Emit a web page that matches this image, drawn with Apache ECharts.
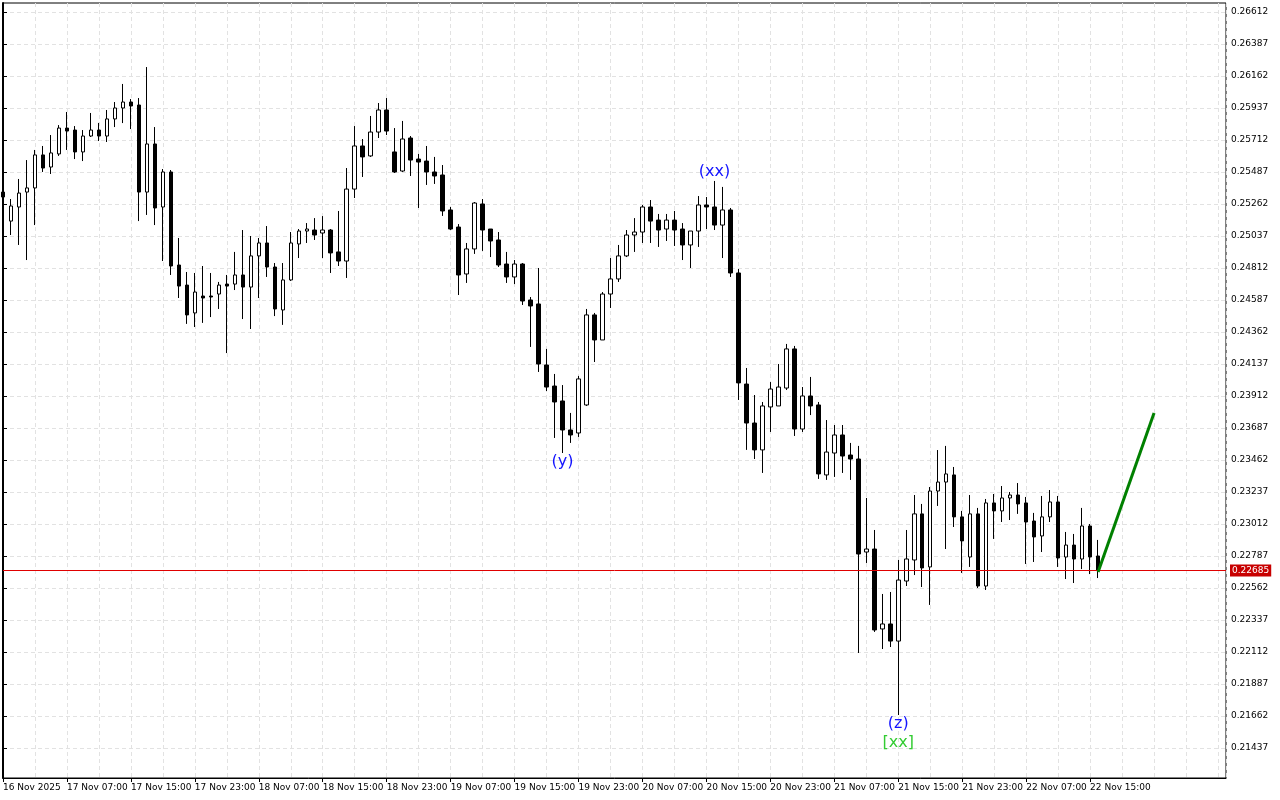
<!DOCTYPE html>
<html>
<head>
<meta charset="utf-8">
<script src="https://cdn.jsdelivr.net/npm/echarts@6/dist/echarts.min.js"></script>
<style>
  html, body { margin: 0; padding: 0; background: #fff; }
  #chart { width: 1280px; height: 800px; }
</style>
</head>
<body>
<div id="chart"></div>
<script>
// H1 candles, 16 Nov 23:00 -> 22 Nov 16:00
var opens = [
  0.25346, 0.25142, 0.25241, 0.25346, 0.25375, 0.25607, 0.25522, 0.25614, 0.25796, 0.25782,
  0.25628, 0.25740, 0.25782, 0.25740, 0.25860, 0.25937, 0.25979, 0.25958, 0.25346, 0.25684,
  0.25241, 0.25487, 0.24833, 0.24692, 0.24496, 0.24615, 0.24615, 0.24629, 0.24699, 0.24699,
  0.24763, 0.24678, 0.24897, 0.24988, 0.24819, 0.24517, 0.24728, 0.24981, 0.25072, 0.25079,
  0.25058, 0.25079, 0.24925, 0.24861, 0.25367, 0.25670, 0.25600, 0.25768, 0.25923, 0.25628,
  0.25494, 0.25726, 0.25578, 0.25564, 0.25487, 0.25466, 0.25220, 0.25100, 0.24770, 0.24946,
  0.25262, 0.25086, 0.25009, 0.24840, 0.24749, 0.24840, 0.24587, 0.24559, 0.24130, 0.23982,
  0.23877, 0.23673, 0.23652, 0.23849, 0.24482, 0.24306, 0.24629, 0.24735, 0.24897, 0.25044,
  0.25065, 0.25241, 0.25149, 0.25086, 0.25149, 0.25086, 0.24974, 0.25072, 0.25255, 0.25241,
  0.25114, 0.25220, 0.24777, 0.23996, 0.23722, 0.23533, 0.23835, 0.23842, 0.23968, 0.24243,
  0.23680, 0.23912, 0.23849, 0.23357, 0.23511, 0.23638, 0.23497, 0.23469, 0.22815, 0.22836,
  0.22274, 0.22309, 0.22189, 0.22611, 0.22759, 0.23083, 0.22710, 0.23244, 0.23307, 0.23357,
  0.23062, 0.22780, 0.23083, 0.22576, 0.23160, 0.23104, 0.23195, 0.23216, 0.23160, 0.23033,
  0.22928, 0.23062, 0.23167, 0.22780, 0.22864, 0.22766, 0.22998, 0.22787
];
var highs = [
  0.25353, 0.25297, 0.25438, 0.25571, 0.25642, 0.25670, 0.25747, 0.25817, 0.25909, 0.25810,
  0.25782, 0.25902, 0.25832, 0.25923, 0.25979, 0.26106, 0.26000, 0.26007, 0.26225, 0.25803,
  0.25508, 0.25501, 0.25023, 0.24784, 0.24777, 0.24826, 0.24777, 0.24714, 0.24763, 0.24925,
  0.25079, 0.25037, 0.25023, 0.25107, 0.24847, 0.24847, 0.25065, 0.25086, 0.25128, 0.25163,
  0.25177, 0.25086, 0.25213, 0.25515, 0.25810, 0.25719, 0.25881, 0.25972, 0.26007, 0.25796,
  0.25846, 0.25740, 0.25614, 0.25670, 0.25593, 0.25536, 0.25241, 0.25121, 0.24988, 0.25276,
  0.25297, 0.25086, 0.25065, 0.24925, 0.24868, 0.24847, 0.24608, 0.24812, 0.24243, 0.24067,
  0.23989, 0.23793, 0.24053, 0.24524, 0.24496, 0.24643, 0.24882, 0.24974, 0.25079, 0.25163,
  0.25255, 0.25290, 0.25192, 0.25192, 0.25213, 0.25128, 0.25072, 0.25318, 0.25311, 0.25424,
  0.25382, 0.25234, 0.24805, 0.24109, 0.23919, 0.23870, 0.24010, 0.24137, 0.24278, 0.24264,
  0.23975, 0.24046, 0.23870, 0.23743, 0.23708, 0.23708, 0.23582, 0.23561, 0.23195, 0.22970,
  0.22520, 0.22534, 0.22759, 0.22970, 0.23216, 0.23153, 0.23272, 0.23532, 0.23561, 0.23413,
  0.23104, 0.23216, 0.23125, 0.23188, 0.23223, 0.23279, 0.23237, 0.23300, 0.23202, 0.23090,
  0.23209, 0.23251, 0.23209, 0.22956, 0.22942, 0.23125, 0.23012, 0.22900
];
var lows = [
  0.25304, 0.25044, 0.24974, 0.24868, 0.25114, 0.25487, 0.25473, 0.25600, 0.25642, 0.25578,
  0.25564, 0.25733, 0.25705, 0.25698, 0.25803, 0.25831, 0.25789, 0.25142, 0.25185, 0.25114,
  0.24861, 0.24763, 0.24601, 0.24419, 0.24397, 0.24426, 0.24467, 0.24524, 0.24214, 0.24657,
  0.24453, 0.24383, 0.24601, 0.24749, 0.24474, 0.24412, 0.24721, 0.24882, 0.24988, 0.25009,
  0.24882, 0.24777, 0.24826, 0.24742, 0.25304, 0.25452, 0.25593, 0.25726, 0.25747, 0.25480,
  0.25487, 0.25459, 0.25234, 0.25396, 0.25403, 0.25178, 0.25079, 0.24622, 0.24707, 0.24911,
  0.24932, 0.24889, 0.24819, 0.24707, 0.24699, 0.24552, 0.24257, 0.24081, 0.23947, 0.23617,
  0.23511, 0.23582, 0.23624, 0.23842, 0.24151, 0.24306, 0.24531, 0.24714, 0.24889, 0.24925,
  0.24988, 0.24988, 0.24960, 0.25002, 0.24967, 0.24868, 0.24812, 0.24960, 0.25086, 0.25079,
  0.24882, 0.24749, 0.23884, 0.23533, 0.23469, 0.23371, 0.23659, 0.23842, 0.23954, 0.23631,
  0.23659, 0.23778, 0.23329, 0.23322, 0.23343, 0.23371, 0.23322, 0.22105, 0.22738, 0.22253,
  0.22133, 0.22147, 0.21669, 0.22576, 0.22653, 0.22569, 0.22443, 0.23139, 0.22836, 0.22991,
  0.22668, 0.22710, 0.22562, 0.22548, 0.22907, 0.23026, 0.23040, 0.23083, 0.22731, 0.22745,
  0.22815, 0.23026, 0.22710, 0.22625, 0.22597, 0.22695, 0.22660, 0.22632
];
var closes = [
  0.25311, 0.25248, 0.25339, 0.25375, 0.25607, 0.25515, 0.25621, 0.25796, 0.25775, 0.25628,
  0.25740, 0.25782, 0.25740, 0.25860, 0.25937, 0.25979, 0.25951, 0.25346, 0.25684, 0.25234,
  0.25487, 0.24826, 0.24685, 0.24482, 0.24643, 0.24601, 0.24608, 0.24692, 0.24685, 0.24763,
  0.24678, 0.24897, 0.24988, 0.24819, 0.24524, 0.24728, 0.24988, 0.25072, 0.25086, 0.25044,
  0.25079, 0.24918, 0.24861, 0.25367, 0.25670, 0.25593, 0.25768, 0.25923, 0.25775, 0.25487,
  0.25719, 0.25571, 0.25557, 0.25487, 0.25459, 0.25213, 0.25086, 0.24763, 0.24946, 0.25269,
  0.25079, 0.25002, 0.24833, 0.24749, 0.24840, 0.24580, 0.24545, 0.24137, 0.23975, 0.23870,
  0.23673, 0.23638, 0.24032, 0.24482, 0.24306, 0.24629, 0.24735, 0.24897, 0.25044, 0.25065,
  0.25241, 0.25142, 0.25079, 0.25149, 0.25079, 0.24974, 0.25072, 0.25255, 0.25241, 0.25114,
  0.25220, 0.24777, 0.24004, 0.23722, 0.23533, 0.23842, 0.23961, 0.23975, 0.24243, 0.23680,
  0.23912, 0.23842, 0.23364, 0.23518, 0.23638, 0.23490, 0.23469, 0.22801, 0.22836, 0.22267,
  0.22309, 0.22189, 0.22618, 0.22766, 0.23083, 0.22703, 0.23244, 0.23307, 0.23364, 0.23062,
  0.22893, 0.23083, 0.22576, 0.23160, 0.23104, 0.23195, 0.23216, 0.23153, 0.23026, 0.22921,
  0.23062, 0.23167, 0.22773, 0.22864, 0.22766, 0.22998, 0.22780, 0.22685
];

var lastPrice = 0.22685;

// price scale labels
var yTicks = [
  0.21437, 0.21662, 0.21887, 0.22112, 0.22337, 0.22562, 0.22787, 0.23012,
  0.23237, 0.23462, 0.23687, 0.23912, 0.24137, 0.24362, 0.24587, 0.24812,
  0.25037, 0.25262, 0.25487, 0.25712, 0.25937, 0.26162, 0.26387, 0.26612
];
// time scale labels, one every 8 bars
var timeLabels = [
  "16 Nov 2025", "17 Nov 07:00", "17 Nov 15:00", "17 Nov 23:00", "18 Nov 07:00",
  "18 Nov 15:00", "18 Nov 23:00", "19 Nov 07:00", "19 Nov 15:00", "19 Nov 23:00",
  "20 Nov 07:00", "20 Nov 15:00", "20 Nov 23:00", "21 Nov 07:00", "21 Nov 15:00",
  "21 Nov 23:00", "22 Nov 07:00", "22 Nov 15:00"
];

// wave marks
var waveText  = ["(xx)", "(y)", "(z)", "[xx]"];
var waveBar   = [89, 70, 112, 112];
var wavePrice = [0.25424, 0.23511, 0.21669, 0.21669];

// projection line
var projBar   = [137, 144];
var projPrice = [0.22675, 0.23793];

var totalBars = 154; // includes empty space on the right
var categories = [];
var days = ["16", "17", "18", "19", "20", "21", "22", "23"];
for (var i = 0; i < totalBars; i++) {
  var h = 23 + i;
  var d = Math.floor(h / 24);
  var hh = h % 24;
  categories.push(days[d] + " Nov " + (hh < 10 ? "0" : "") + hh + ":00");
}

var candles = [];
for (var i = 0; i < opens.length; i++) {
  candles.push([opens[i], closes[i], lows[i], highs[i]]);
}

var waveData = [];
for (var i = 0; i < waveText.length; i++) {
  var isTop = i === 0;
  var isGreen = waveText[i] === "[xx]";
  waveData.push({
    value: [waveBar[i], wavePrice[i]],
    label: {
      show: true,
      formatter: waveText[i],
      position: isTop ? "top" : "bottom",
      distance: 1,
      offset: isGreen ? [0, 19] : [0, 0],
      color: isGreen ? "#33cc33" : "#1414ff",
      fontSize: 16,
      fontFamily: "DejaVu Sans"
    }
  });
}

var projData = [];
for (var i = 0; i < projBar.length; i++) {
  projData.push([projBar[i], projPrice[i]]);
}

var myChart = echarts.init(document.getElementById("chart"), null, { renderer: "canvas" });

var gridDash = { color: "#e2e2e2", width: 1, type: [4, 3] };
var everyEighth = function (idx) { return idx % 8 === 0 && idx / 8 < timeLabels.length; };
var yMin = 0.21226062;
var yMax = 0.26675281;

var option = {
  animation: false,
  backgroundColor: "#ffffff",
  textStyle: { fontFamily: "DejaVu Sans" },
  grid: {
    left: 3,
    right: 54,
    top: 3,
    bottom: 22,
    show: true,
    borderColor: "#000",
    borderWidth: 1,
    backgroundColor: "#fff"
  },
  xAxis: [
    {
      type: "category",
      data: categories,
      boundaryGap: false,
      axisLine: { show: true, lineStyle: { color: "#000", width: 1 } },
      axisTick: {
        show: true,
        length: 4,
        lineStyle: { color: "#000" },
        interval: everyEighth
      },
      axisLabel: {
        interval: everyEighth,
        formatter: function (v, idx) { return timeLabels[idx / 8] || ""; },
        align: "left",
        margin: 5,
        color: "#000",
        fontSize: 9,
        fontFamily: "DejaVu Sans"
      },
      splitLine: { show: false }
    },
    {
      // bar-index axis, only used for the vertical grid (every 4 bars)
      type: "value",
      min: 0,
      max: totalBars - 1,
      interval: 4,
      position: "bottom",
      axisLine: { show: false },
      axisTick: { show: false },
      axisLabel: { show: false },
      splitLine: { show: true, lineStyle: gridDash }
    }
  ],
  yAxis: [
    {
      type: "value",
      position: "right",
      min: yMin,
      max: yMax,
      axisLine: { show: true, lineStyle: { color: "#000", width: 2 } },
      axisTick: {
        show: true,
        length: 4,
        lineStyle: { color: "#000" },
        customValues: yTicks
      },
      axisLabel: {
        customValues: yTicks,
        margin: 5,
        color: "#000",
        fontSize: 9,
        fontFamily: "DejaVu Sans",
        formatter: function (v) { return v.toFixed(5); }
      },
      splitLine: { show: true, lineStyle: gridDash }
    },
    {
      // current price tag
      type: "value",
      position: "right",
      min: yMin,
      max: yMax,
      axisLine: { show: false },
      axisTick: { show: false, customValues: [lastPrice] },
      splitLine: { show: false },
      axisLabel: {
        customValues: [lastPrice],
        margin: 4,
        color: "#fff",
        backgroundColor: "#c80000",
        padding: [2, 2, 1, 2],
        fontSize: 9,
        fontFamily: "DejaVu Sans",
        formatter: function (v) { return v.toFixed(5); }
      }
    }
  ],
  series: [
    {
      type: "candlestick",
      data: candles,
      barWidth: 4,
      clip: true,
      itemStyle: {
        color: "#ffffff",
        color0: "#000000",
        borderColor: "#000000",
        borderColor0: "#000000",
        borderWidth: 1
      }
    },
    {
      // current price line
      type: "line",
      data: [[0, lastPrice], [totalBars - 1, lastPrice]],
      symbol: "none",
      silent: true,
      lineStyle: { color: "#e00000", width: 1 },
      z: 4
    },
    {
      type: "line",
      data: projData,
      symbol: "none",
      lineStyle: { color: "#008000", width: 3 },
      z: 5
    },
    {
      type: "scatter",
      data: waveData,
      symbolSize: 0,
      itemStyle: { opacity: 1 },
      z: 6
    }
  ]
};

myChart.setOption(option);
window.onresize = function () { myChart.resize(); };
</script>
</body>
</html>
